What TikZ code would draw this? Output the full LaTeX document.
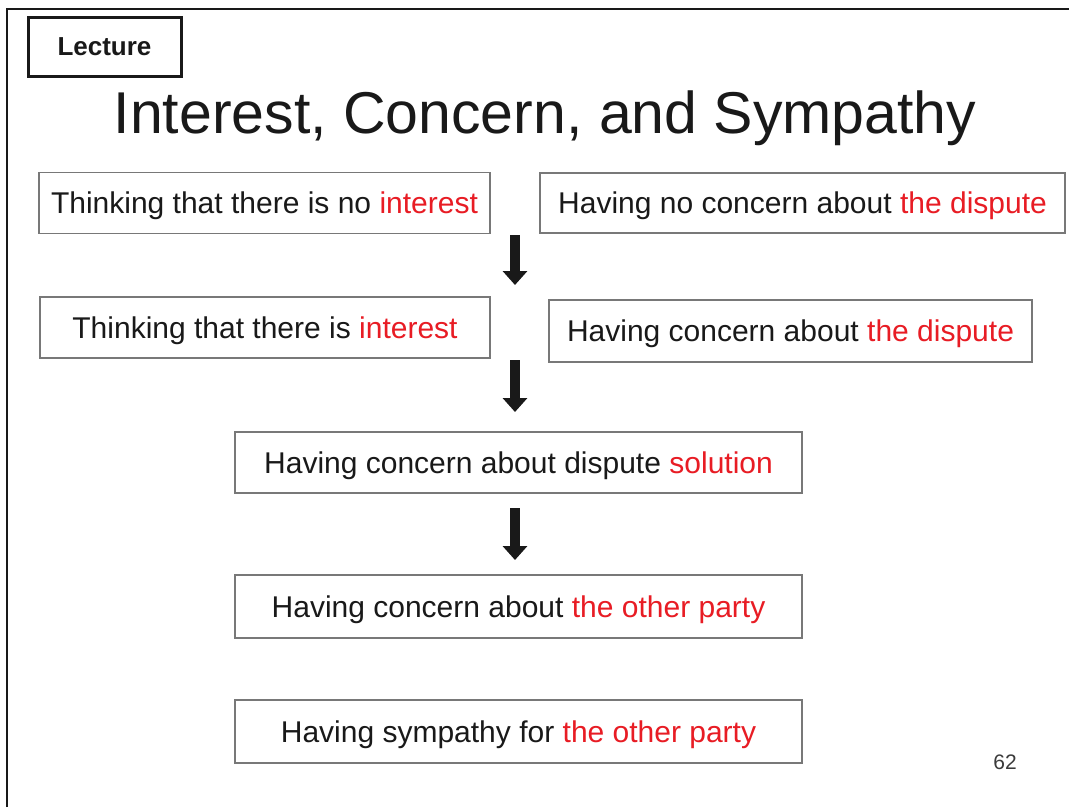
\documentclass[tikz,border=0pt]{standalone}
\usepackage{fontspec}
\setmainfont{Liberation Sans}
\usetikzlibrary{arrows.meta}
\definecolor{ink}{RGB}{25,25,25}
\definecolor{hilite}{RGB}{232,28,36}
\definecolor{frame}{RGB}{120,120,120}
\newcommand{\hl}[1]{\textcolor{hilite}{#1}}
\begin{document}
\begin{tikzpicture}[x=1pt,y=-1pt,
  stagebox/.style={draw=frame, line width=1.4pt, fill=white, inner sep=0pt,
    text height=21.5pt, text depth=0pt, text=ink,
    font=\fontsize{30}{36}\selectfont},
  flowarrow/.style={line width=10pt, ink,
    -{Triangle[width=24pt,length=14pt]}}]
\useasboundingbox (0,0) rectangle (1069,807);
\fill[white] (0,0) rectangle (1069,807);
% slide frame: left and top edges
\draw[ink, line width=2.5pt] (7,807) -- (7,9) -- (1069,9);
% lecture tag
\node[draw=ink, line width=3pt, minimum width=153pt, minimum height=59pt,
  inner sep=0pt, text=ink, font=\bfseries\fontsize{26}{30}\selectfont]
  (tag) at (104.5,46.5) {Lecture};
% title
\node[anchor=base, inner sep=0pt, text=ink, font=\fontsize{59}{70}\selectfont]
  (title) at (545,133) {Interest, Concern, and Sympathy};
% stage boxes
\node[stagebox, minimum width=451pt, minimum height=61pt] (b1) at (264.5,203)
  {Thinking that there is no \hl{interest}};
\node[stagebox, minimum width=525pt, minimum height=60pt] (b2) at (802.5,203)
  {Having no concern about \hl{the dispute}};
\node[stagebox, minimum width=450pt, minimum height=61pt] (b3) at (265,327.5)
  {Thinking that there is \hl{interest}};
\node[stagebox, minimum width=483pt, minimum height=62pt] (b4) at (790.5,331)
  {Having concern about \hl{the dispute}};
\node[stagebox, minimum width=567pt, minimum height=61pt] (b5) at (518.5,462.5)
  {Having concern about dispute \hl{solution}};
\node[stagebox, minimum width=567pt, minimum height=63pt] (b6) at (518.5,606.5)
  {Having concern about \hl{the other party}};
\node[stagebox, minimum width=567pt, minimum height=63pt] (b7) at (518.5,731.5)
  {Having sympathy for \hl{the other party}};
% arrow end points
\coordinate (a1s) at (515,235);
\coordinate (a1e) at (515,285);
\coordinate (a2s) at (515,360);
\coordinate (a2e) at (515,412);
\coordinate (a3s) at (515,508);
\coordinate (a3e) at (515,560);
\draw[flowarrow] (a1s) -- (a1e);
\draw[flowarrow] (a2s) -- (a2e);
\draw[flowarrow] (a3s) -- (a3e);
% page number
\node[anchor=base, inner sep=0pt, text=ink!85, font=\fontsize{21}{25}\selectfont]
  (page) at (1005,769) {62};
\end{tikzpicture}
\end{document}
